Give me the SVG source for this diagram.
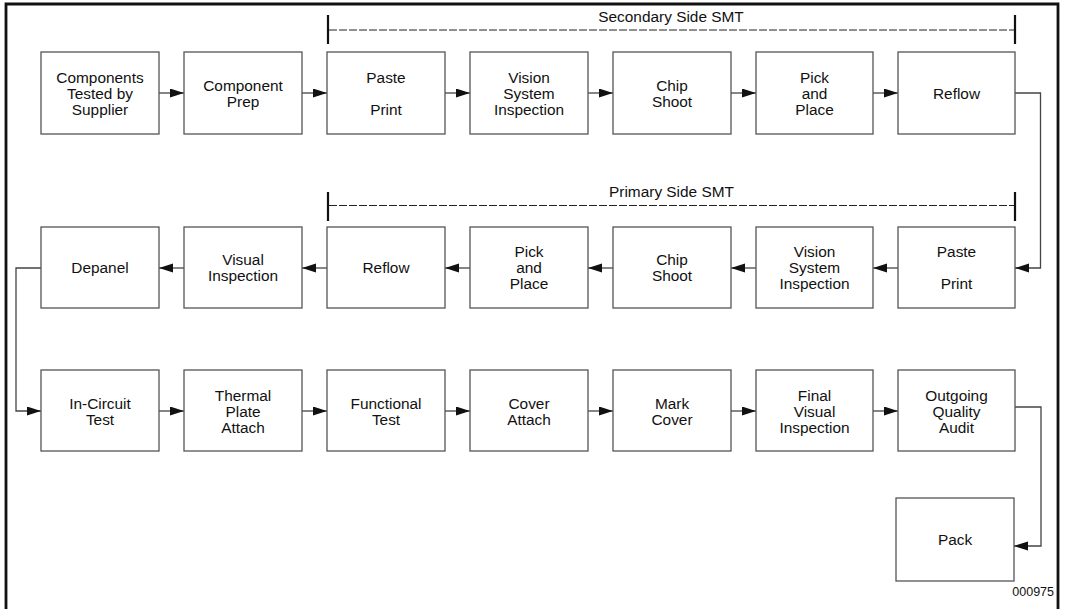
<svg xmlns="http://www.w3.org/2000/svg" width="1066" height="609" viewBox="0 0 1066 609">
<style>
.box{fill:#fff;stroke:#555;stroke-width:1.3}
.t{font-family:"Liberation Sans",Arial,sans-serif;font-size:15.4px;fill:#111;text-anchor:middle}
.lbl{font-family:"Liberation Sans",Arial,sans-serif;font-size:15.4px;fill:#111;text-anchor:middle}
.c{fill:none;stroke:#444;stroke-width:1.3}
.dash{fill:none;stroke:#222;stroke-width:1;stroke-dasharray:8 2}
.tick{stroke:#111;stroke-width:2.2}
</style>
<defs>
<marker id="ah" markerUnits="userSpaceOnUse" markerWidth="15" markerHeight="10" refX="14" refY="4.5" orient="auto">
<path d="M0,0 L14,4.5 L0,9 Z" fill="#111"/>
</marker>
</defs>
<rect x="0" y="0" width="1066" height="609" fill="#fff"/>
<path d="M6,614 V4 H1058 V614" fill="none" stroke="#111" stroke-width="2.8"/>

<g id="secondary-bracket">
<line class="tick" x1="328" y1="15" x2="328" y2="44"/>
<line class="tick" x1="1015" y1="15" x2="1015" y2="44"/>
<line class="dash" x1="329" y1="30" x2="1014" y2="30"/>
<text class="lbl" x="671" y="22">Secondary Side SMT</text>
</g>
<g id="primary-bracket">
<line class="tick" x1="328" y1="192" x2="328" y2="221"/>
<line class="tick" x1="1015" y1="192" x2="1015" y2="221"/>
<line class="dash" x1="329" y1="205.5" x2="1014" y2="205.5"/>
<text class="lbl" x="671.5" y="197">Primary Side SMT</text>
</g>

<g id="connectors">
<line class="c" x1="159" y1="93" x2="184" y2="93" marker-end="url(#ah)"/>
<line class="c" x1="302" y1="93" x2="327" y2="93" marker-end="url(#ah)"/>
<line class="c" x1="445" y1="93" x2="470" y2="93" marker-end="url(#ah)"/>
<line class="c" x1="588" y1="93" x2="613" y2="93" marker-end="url(#ah)"/>
<line class="c" x1="731" y1="93" x2="756" y2="93" marker-end="url(#ah)"/>
<line class="c" x1="873" y1="93" x2="898" y2="93" marker-end="url(#ah)"/>
<path class="c" d="M1015,93 H1040.5 V268 H1015" marker-end="url(#ah)"/>
<line class="c" x1="898" y1="268" x2="873" y2="268" marker-end="url(#ah)"/>
<line class="c" x1="756" y1="268" x2="731" y2="268" marker-end="url(#ah)"/>
<line class="c" x1="613" y1="268" x2="588" y2="268" marker-end="url(#ah)"/>
<line class="c" x1="470" y1="268" x2="445" y2="268" marker-end="url(#ah)"/>
<line class="c" x1="327" y1="268" x2="302" y2="268" marker-end="url(#ah)"/>
<line class="c" x1="184" y1="268" x2="159" y2="268" marker-end="url(#ah)"/>
<path class="c" d="M41,268 H16 V411 H41" marker-end="url(#ah)"/>
<line class="c" x1="159" y1="411" x2="184" y2="411" marker-end="url(#ah)"/>
<line class="c" x1="302" y1="411" x2="327" y2="411" marker-end="url(#ah)"/>
<line class="c" x1="445" y1="411" x2="470" y2="411" marker-end="url(#ah)"/>
<line class="c" x1="588" y1="411" x2="613" y2="411" marker-end="url(#ah)"/>
<line class="c" x1="731" y1="411" x2="756" y2="411" marker-end="url(#ah)"/>
<line class="c" x1="873" y1="411" x2="898" y2="411" marker-end="url(#ah)"/>
<path class="c" d="M1015,407 H1041 V546 H1014" marker-end="url(#ah)"/>
</g>

<g id="n1"><rect class="box" x="41" y="52" width="118" height="82"/><text class="t" x="100" y="82.5">Components</text><text class="t" x="100" y="98.5">Tested by</text><text class="t" x="100" y="114.5">Supplier</text></g>
<g id="n2"><rect class="box" x="184" y="52" width="118" height="82"/><text class="t" x="243" y="90.5">Component</text><text class="t" x="243" y="106.5">Prep</text></g>
<g id="n3"><rect class="box" x="327" y="52" width="118" height="82"/><text class="t" x="386" y="82.5">Paste</text><text class="t" x="386" y="114.5">Print</text></g>
<g id="n4"><rect class="box" x="470" y="52" width="118" height="82"/><text class="t" x="529" y="82.5">Vision</text><text class="t" x="529" y="98.5">System</text><text class="t" x="529" y="114.5">Inspection</text></g>
<g id="n5"><rect class="box" x="613" y="52" width="118" height="82"/><text class="t" x="672" y="90.5">Chip</text><text class="t" x="672" y="106.5">Shoot</text></g>
<g id="n6"><rect class="box" x="756" y="52" width="117" height="82"/><text class="t" x="814.5" y="82.5">Pick</text><text class="t" x="814.5" y="98.5">and</text><text class="t" x="814.5" y="114.5">Place</text></g>
<g id="n7"><rect class="box" x="898" y="52" width="117" height="82"/><text class="t" x="956.5" y="98.5">Reflow</text></g>

<g id="p1"><rect class="box" x="898" y="227" width="117" height="81"/><text class="t" x="956.5" y="257">Paste</text><text class="t" x="956.5" y="289">Print</text></g>
<g id="p2"><rect class="box" x="756" y="227" width="117" height="81"/><text class="t" x="814.5" y="257">Vision</text><text class="t" x="814.5" y="273">System</text><text class="t" x="814.5" y="289">Inspection</text></g>
<g id="p3"><rect class="box" x="613" y="227" width="118" height="81"/><text class="t" x="672" y="265">Chip</text><text class="t" x="672" y="281">Shoot</text></g>
<g id="p4"><rect class="box" x="470" y="227" width="118" height="81"/><text class="t" x="529" y="257">Pick</text><text class="t" x="529" y="273">and</text><text class="t" x="529" y="289">Place</text></g>
<g id="p5"><rect class="box" x="327" y="227" width="118" height="81"/><text class="t" x="386" y="273">Reflow</text></g>
<g id="p6"><rect class="box" x="184" y="227" width="118" height="81"/><text class="t" x="243" y="265">Visual</text><text class="t" x="243" y="281">Inspection</text></g>
<g id="p7"><rect class="box" x="41" y="227" width="118" height="81"/><text class="t" x="100" y="273">Depanel</text></g>

<g id="f1"><rect class="box" x="41" y="370" width="118" height="81"/><text class="t" x="100" y="408.5">In-Circuit</text><text class="t" x="100" y="424.5">Test</text></g>
<g id="f2"><rect class="box" x="184" y="370" width="118" height="81"/><text class="t" x="243" y="400.5">Thermal</text><text class="t" x="243" y="416.5">Plate</text><text class="t" x="243" y="432.5">Attach</text></g>
<g id="f3"><rect class="box" x="327" y="370" width="118" height="81"/><text class="t" x="386" y="408.5">Functional</text><text class="t" x="386" y="424.5">Test</text></g>
<g id="f4"><rect class="box" x="470" y="370" width="118" height="81"/><text class="t" x="529" y="408.5">Cover</text><text class="t" x="529" y="424.5">Attach</text></g>
<g id="f5"><rect class="box" x="613" y="370" width="118" height="81"/><text class="t" x="672" y="408.5">Mark</text><text class="t" x="672" y="424.5">Cover</text></g>
<g id="f6"><rect class="box" x="756" y="370" width="117" height="81"/><text class="t" x="814.5" y="400.5">Final</text><text class="t" x="814.5" y="416.5">Visual</text><text class="t" x="814.5" y="432.5">Inspection</text></g>
<g id="f7"><rect class="box" x="898" y="370" width="117" height="81"/><text class="t" x="956.5" y="400.5">Outgoing</text><text class="t" x="956.5" y="416.5">Quality</text><text class="t" x="956.5" y="432.5">Audit</text></g>

<g id="pack"><rect class="box" x="896" y="498" width="118" height="83"/><text class="t" x="955" y="545">Pack</text></g>

<text x="1054" y="596" font-family="Liberation Sans, Arial, sans-serif" font-size="12.5" fill="#111" text-anchor="end">000975</text>
</svg>
